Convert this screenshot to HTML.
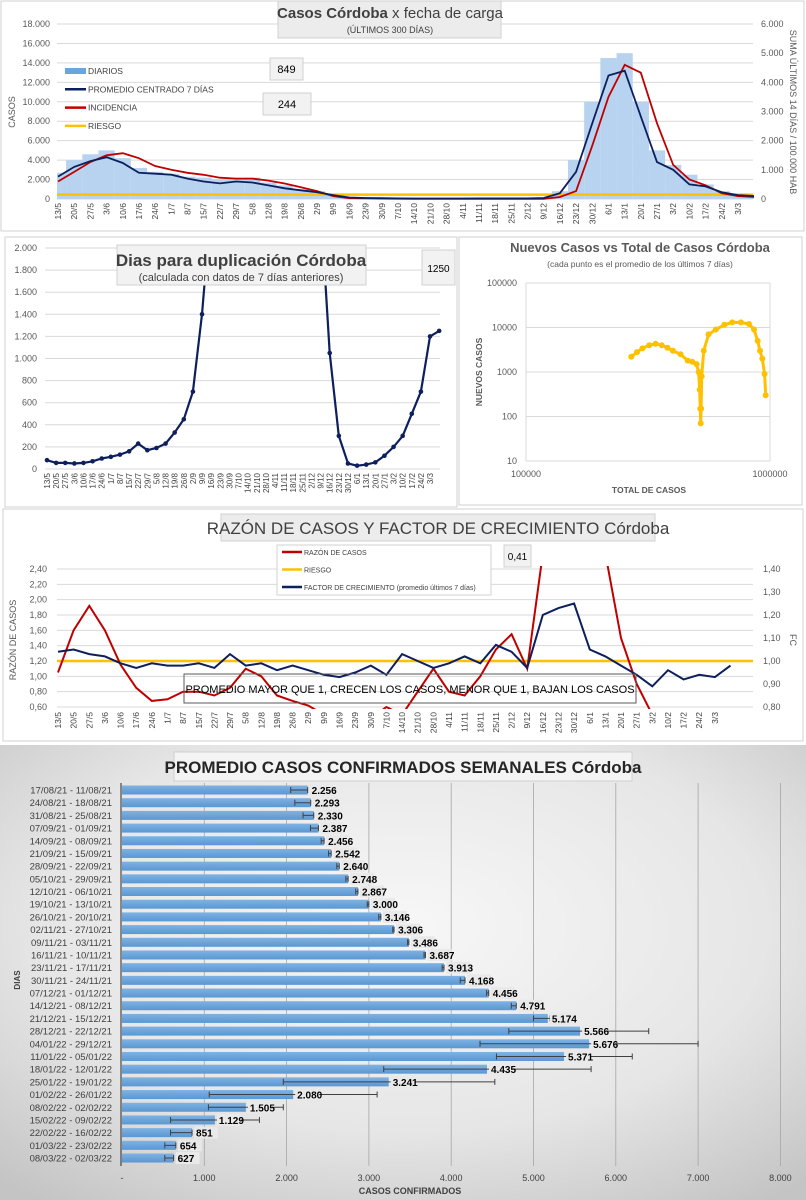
<!DOCTYPE html>
<html><head><meta charset="utf-8"><style>
body{margin:0;background:#fff;width:806px;height:1200px;overflow:hidden}
svg{display:block;font-family:"Liberation Sans Narrow","Liberation Sans",sans-serif}
</style></head><body>
<svg id="root" width="806" height="1200" viewBox="0 0 806 1200" xmlns="http://www.w3.org/2000/svg">
<defs>
<radialGradient id="bg5" cx="50%" cy="40%" r="75%"><stop offset="0" stop-color="#f7f7f7"/><stop offset="0.6" stop-color="#e6e6e6"/><stop offset="1" stop-color="#c4c4c4"/></radialGradient>
<linearGradient id="barg" x1="0" y1="0" x2="0" y2="1"><stop offset="0" stop-color="#7fb2e3"/><stop offset="1" stop-color="#5a97d2"/></linearGradient>
<clipPath id="c1"><rect x="57" y="20" width="697" height="182"/></clipPath>
<clipPath id="c2"><rect x="44" y="246" width="400" height="226"/></clipPath>
<clipPath id="c4"><rect x="57" y="566" width="697" height="143"/></clipPath>
</defs>
</svg>
<script>
// ---------- data ----------
const weekLabels=["13/5","20/5","27/5","3/6","10/6","17/6","24/6","1/7","8/7","15/7","22/7","29/7","5/8","12/8","19/8","26/8","2/9","9/9","16/9","23/9","30/9","7/10","14/10","21/10","28/10","4/11","11/11","18/11","25/11","2/12","9/12","16/12","23/12","30/12","6/1","13/1","20/1","27/1","3/2","10/2","17/2","24/2","3/3"];
const diarios=[2700,4000,4600,5000,4200,3200,2800,2600,2300,2200,2000,2200,2200,1700,1400,1000,800,400,200,100,80,60,50,50,50,50,60,60,60,60,100,800,4000,10000,14500,15000,10000,5000,3500,2500,1500,800,500,300];
const promedio=[2300,3300,3900,4300,3700,2700,2600,2500,2100,1800,1600,1800,1700,1400,1100,900,700,400,150,100,80,60,50,50,50,50,60,60,60,60,100,600,2800,7800,12700,13200,8500,3800,3000,1500,1300,700,400,300];
const incidencia=[600,930,1270,1500,1570,1400,1130,1000,900,830,730,700,700,630,530,400,270,100,27,20,13,10,7,7,7,7,7,7,7,7,7,67,270,1830,3500,4600,4330,2600,1170,670,470,200,100,67];
const riesgo1=450;
const duplicacion=[80,55,55,50,55,70,95,110,130,160,230,170,190,230,330,450,700,1400,2400,null,null,null,null,null,null,null,null,null,null,null,2400,1050,300,50,30,40,60,120,200,300,500,700,1200,1250];
const razon=[1.05,1.6,1.92,1.6,1.15,0.85,0.68,0.7,0.8,0.8,0.75,0.85,1.1,1.0,0.75,0.68,0.62,0.5,0.4,0.4,0.45,0.6,0.5,0.8,1.1,0.8,0.75,1.0,1.35,1.55,1.1,2.6,3.0,3.0,3.0,2.6,1.5,0.9,0.5,0.4,0.4,0.4,0.4,0.4];
const factor=[1.04,1.05,1.03,1.02,0.99,0.97,0.99,0.98,0.98,0.99,0.97,1.03,0.98,0.99,0.96,0.98,0.96,0.94,0.93,0.95,0.98,0.94,1.03,1.0,0.97,0.99,1.02,0.99,1.07,1.04,0.97,1.2,1.23,1.25,1.05,1.02,0.98,0.94,0.89,0.96,0.92,0.94,0.93,0.98];
const totales=[270000,285000,300000,320000,340000,360000,380000,400000,430000,460000,480000,500000,510000,515000,518000,520000,522000,525000,535000,560000,600000,650000,700000,760000,820000,860000,890000,910000,930000,950000,960000];
const nuevos=[2200,2800,3400,4000,4300,4000,3500,3000,2500,1800,1700,1500,1000,400,150,70,150,800,3000,7000,9000,11500,13000,13000,12000,9000,5000,3000,2000,900,300];
const semanas=["17/08/21 - 11/08/21","24/08/21 - 18/08/21","31/08/21 - 25/08/21","07/09/21 - 01/09/21","14/09/21 - 08/09/21","21/09/21 - 15/09/21","28/09/21 - 22/09/21","05/10/21 - 29/09/21","12/10/21 - 06/10/21","19/10/21 - 13/10/21","26/10/21 - 20/10/21","02/11/21 - 27/10/21","09/11/21 - 03/11/21","16/11/21 - 10/11/21","23/11/21 - 17/11/21","30/11/21 - 24/11/21","07/12/21 - 01/12/21","14/12/21 - 08/12/21","21/12/21 - 15/12/21","28/12/21 - 22/12/21","04/01/22 - 29/12/21","11/01/22 - 05/01/22","18/01/22 - 12/01/22","25/01/22 - 19/01/22","01/02/22 - 26/01/22","08/02/22 - 02/02/22","15/02/22 - 09/02/22","22/02/22 - 16/02/22","01/03/22 - 23/02/22","08/03/22 - 02/03/22"];
const promSem=[2256,2293,2330,2387,2456,2542,2640,2748,2867,3000,3146,3306,3486,3687,3913,4168,4456,4791,5174,5566,5676,5371,4435,3241,2080,1505,1129,851,654,627];
const errLo=[2050,2100,2200,2290,2420,2510,2610,2720,2840,2980,3120,3290,3470,3670,3890,4110,4430,4730,5000,4700,4350,4550,3180,1960,1060,1050,590,590,520,520];
const errHi=[2256,2293,2330,2387,2456,2542,2640,2748,2867,3000,3146,3306,3486,3687,3913,4168,4456,4791,5200,6400,7000,6200,5700,4530,3100,1960,1670,851,654,627];
const fmt=v=>v.toLocaleString('de-DE');

// ---------- helpers ----------
const NS="http://www.w3.org/2000/svg";
const root=document.getElementById('root');
function mk(tag,attrs,parent){const e=document.createElementNS(NS,tag);for(const k in attrs)e.setAttribute(k,attrs[k]);(parent||root).appendChild(e);return e;}
function txt(s,attrs,parent){const e=mk('text',attrs,parent);e.textContent=s;return e;}
function box(x,y,w,h,fill){return mk('rect',{x:x,y:y,width:w,height:h,fill:fill||'#fff',stroke:'#d0d0d0','stroke-width':1});}
function pathFrom(xs,ys){let d='',pen=false;for(let i=0;i<xs.length;i++){if(ys[i]===null){pen=false;continue;}d+=(pen?'L':'M')+xs[i].toFixed(1)+','+ys[i].toFixed(1);pen=true;}return d;}

// ================= PANEL 1 =================
let p=box(1,1,803,230);


const x1=i=>58+i*16.19, y1=v=>199-v/18000*175, y1r=v=>199-v/6000*175;
for(let v=0;v<=18000;v+=2000){
  let g=mk('line',{x1:57,x2:753,y1:y1(v),y2:y1(v),stroke:'#d9d9d9','stroke-width':1});
  
  
  let t=txt(fmt(v),{x:50,y:y1(v)+3,'text-anchor':'end','font-size':9,fill:'#595959'});
  
  
}
for(let v=0;v<=6000;v+=1000){
  let t=txt(fmt(v),{x:761,y:y1r(v)+3,'font-size':9,fill:'#595959'});
  
  
}
weekLabels.forEach((l,i)=>{
  let t=txt(l,{transform:`translate(${x1(i)+3},203) rotate(-90)`,'text-anchor':'end','font-size':8.5,fill:'#404040'});
  
  
});
let g1=mk('g',{'clip-path':'url(#c1)'});
diarios.forEach((v,i)=>{
  let b=mk('rect',{x:x1(i)-8.1,y:y1(v),width:16.2,height:199-y1(v),fill:'#b7d3ef'},g1);
  
  
});
let rl=mk('line',{x1:57,x2:753,y1:y1(riesgo1),y2:y1(riesgo1),stroke:'#ffc000','stroke-width':2.5},g1);


let xs=promedio.map((v,i)=>x1(i));
let pl=mk('path',{d:pathFrom(incidencia.map((v,i)=>x1(i)),incidencia.map(y1r)),fill:'none',stroke:'#c00000','stroke-width':1.8},g1);


let pp=mk('path',{d:pathFrom(xs,promedio.map(y1)),fill:'none',stroke:'#0d1f5c','stroke-width':1.8},g1);


let tb=box(278,1,223,37,'#ececec');


let t1=txt('',{x:390,y:18,'text-anchor':'middle','font-size':15,fill:'#404040'});
t1.innerHTML='<tspan font-weight="bold">Casos Córdoba</tspan> x fecha de carga';


let st=txt('(ÚLTIMOS 300 DÍAS)',{x:390,y:33,'text-anchor':'middle','font-size':9,fill:'#404040'});


[['DIARIOS','#6aa6de',6],['PROMEDIO CENTRADO 7 DÍAS','#0d1f5c',2.5],['INCIDENCIA','#c00000',2.5],['RIESGO','#ffc000',2.5]].forEach((e,i)=>{
  const y=71+i*18.3;
  let s=mk('line',{x1:65,x2:86,y1:y,y2:y,stroke:e[1],'stroke-width':e[2]});
  
  
  let t=txt(e[0],{x:88,y:y+3,'font-size':8.5,fill:'#404040'});
  
  
});
let b849=box(270,58,33,22,'#f2f2f2');
let t849=txt('849',{x:286.5,y:73,'text-anchor':'middle','font-size':11,fill:'#000'});
let b244=box(263,93,48,22,'#f2f2f2');
let t244=txt('244',{x:287,y:108,'text-anchor':'middle','font-size':11,fill:'#000'});
let ya=txt('CASOS',{transform:'translate(15,112) rotate(-90)','text-anchor':'middle','font-size':9,fill:'#595959'});

let ya2=txt('SUMA  ÚLTIMOS 14 DÍAS / 100.000 HAB',{transform:'translate(790,112) rotate(90)','text-anchor':'middle','font-size':9,fill:'#595959'});


// ================= PANEL 2 =================
p=box(5,237,452,270);


const x2=i=>47+i*9.12, y2=v=>469-v/2000*221;
for(let v=0;v<=2000;v+=200){
  let g=mk('line',{x1:45,x2:440,y1:y2(v),y2:y2(v),stroke:'#d9d9d9'});
  
  let t=txt(fmt(v),{x:37,y:y2(v)+3,'text-anchor':'end','font-size':9,fill:'#595959'});
  
}
weekLabels.forEach((l,i)=>{
  let t=txt(l,{transform:`translate(${x2(i)+3},473) rotate(-90)`,'text-anchor':'end','font-size':8,fill:'#404040'});
  
});
let g2=mk('g',{'clip-path':'url(#c2)'});
let dl=mk('path',{d:pathFrom(duplicacion.map((v,i)=>x2(i)),duplicacion.map(v=>v===null?null:y2(v))),fill:'none',stroke:'#0d1f5c','stroke-width':2.2},g2);

duplicacion.forEach((v,i)=>{if(v===null)return;
  let c=mk('circle',{cx:x2(i),cy:y2(v),r:2.3,fill:'#0d1f5c'},g2);
  });
let tb2=box(117,245,249,40,'#f2f2f2');
let tt2=txt('Dias para duplicación Córdoba',{x:241,y:266,'text-anchor':'middle','font-size':17,'font-weight':'bold',fill:'#404040'});

let ts2=txt('(calculada con datos de 7 días anteriores)',{x:241,y:281,'text-anchor':'middle','font-size':11,fill:'#404040'});

let b1250=box(422,250,33,35,'#f2f2f2');
let t1250=txt('1250',{x:438.5,y:272,'text-anchor':'middle','font-size':10,fill:'#000'});

// ================= PANEL 3 =================
p=box(459,237,343,268);


const x3=t=>526+Math.log10(t/1e5)*244, y3=n=>461-Math.log10(n/10)/4*178;
[10,100,1000,10000,100000].forEach(v=>{
  let g=mk('line',{x1:526,x2:770,y1:y3(v),y2:y3(v),stroke:'#d9d9d9'});
  
  let t=txt(String(v),{x:517,y:y3(v)+3,'text-anchor':'end','font-size':9,fill:'#595959'});
  
});
[[526,283],[770,283]].forEach(a=>{let l=mk('line',{x1:a[0],x2:a[0],y1:a[1],y2:461,stroke:'#d9d9d9'});});
[[100000,'100000'],[1000000,'1000000']].forEach(a=>{
  let t=txt(a[1],{x:x3(a[0]),y:477,'text-anchor':'middle','font-size':9,fill:'#595959'});
  });
let sp=mk('path',{d:pathFrom(totales.map(x3),nuevos.map(y3)),fill:'none',stroke:'#ffc000','stroke-width':3});

totales.forEach((t,i)=>{let c=mk('circle',{cx:x3(t),cy:y3(nuevos[i]),r:3,fill:'#ffc000'});
  });
let tt3=txt('Nuevos Casos vs Total de Casos Córdoba',{x:640,y:252,'text-anchor':'middle','font-size':13,'font-weight':'bold',fill:'#595959'});

let ts3=txt('(cada punto es el promedio de los últimos 7 días)',{x:640,y:267,'text-anchor':'middle','font-size':8.5,fill:'#595959'});

let ya3=txt('NUEVOS  CASOS',{transform:'translate(482,372) rotate(-90)','text-anchor':'middle','font-size':8.5,'font-weight':'bold',fill:'#595959'});

let xa3=txt('TOTAL DE CASOS',{x:649,y:493,'text-anchor':'middle','font-size':8.5,'font-weight':'bold',fill:'#595959'});


// ================= PANEL 4 =================
p=box(3,509,800,232);


const x4=i=>58+i*15.64, y4=v=>707-(v-0.6)/1.8*138, y4r=v=>707-(v-0.8)/0.6*138;
for(let k=0;k<=9;k++){const v=0.6+k*0.2;
  let g=mk('line',{x1:57,x2:753,y1:y4(v),y2:y4(v),stroke:'#d9d9d9'});
  
  let t=txt(v.toFixed(2).replace('.',','),{x:47,y:y4(v)+3,'text-anchor':'end','font-size':9,fill:'#595959'});
  }
for(let k=0;k<=6;k++){const v=0.8+k*0.1;
  let t=txt(v.toFixed(2).replace('.',','),{x:763,y:y4r(v)+3,'font-size':9,fill:'#595959'});
  }
weekLabels.forEach((l,i)=>{
  let t=txt(l,{transform:`translate(${x4(i)+3},712) rotate(-90)`,'text-anchor':'end','font-size':8.5,fill:'#404040'});
  });
let g4=mk('g',{'clip-path':'url(#c4)'});
let rl4=mk('line',{x1:57,x2:753,y1:y4(1.2),y2:y4(1.2),stroke:'#ffc000','stroke-width':2.5},g4);

let rz=mk('path',{d:pathFrom(razon.map((v,i)=>x4(i)),razon.map(y4)),fill:'none',stroke:'#c00000','stroke-width':2},g4);

let fc=mk('path',{d:pathFrom(factor.map((v,i)=>x4(i)),factor.map(y4r)),fill:'none',stroke:'#0d1f5c','stroke-width':2},g4);

let tb4=box(221,514,434,27,'#ececec');
let tt4=txt('RAZÓN DE CASOS Y FACTOR DE CRECIMIENTO Córdoba',{x:438,y:534,'text-anchor':'middle','font-size':17,fill:'#404040'});

let lb4=box(277,545,214,50,'#fff');
[['RAZÓN DE CASOS','#c00000'],['RIESGO','#ffc000'],['FACTOR DE CRECIMIENTO (promedio últimos 7 días)','#0d1f5c']].forEach((e,i)=>{
  const y=552+i*17.5;
  let s=mk('line',{x1:282,x2:302,y1:y,y2:y,stroke:e[1],'stroke-width':2.5});
  
  let t=txt(e[0],{x:304,y:y+3,'font-size':7,fill:'#404040'});
  });
let b041=box(504,545,27,22,'#f2f2f2');
let t041=txt('0,41',{x:517.5,y:560,'text-anchor':'middle','font-size':10,fill:'#000'});
let nb=mk('rect',{x:184,y:674,width:452,height:29,fill:'none',stroke:'#595959'});
let nt=txt('PROMEDIO MAYOR QUE 1, CRECEN LOS CASOS, MENOR QUE 1, BAJAN LOS CASOS',{x:410,y:693,'text-anchor':'middle','font-size':11,fill:'#000'});

let ya4=txt('RAZÓN  DE CASOS',{transform:'translate(16,640) rotate(-90)','text-anchor':'middle','font-size':9,fill:'#595959'});

let ya42=txt('FC',{transform:'translate(790,640) rotate(90)','text-anchor':'middle','font-size':9,fill:'#595959'});


// ================= PANEL 5 =================
p=mk('rect',{x:0,y:745,width:806,height:455,fill:'url(#bg5)'});


const x5=v=>122+v*0.0823, y5=i=>790+i*12.69;
for(let v=0;v<=8000;v+=1000){
  if(v>0){let g=mk('line',{x1:x5(v),x2:x5(v),y1:783,y2:1166,stroke:'#a6a6a6','stroke-width':0.8});
  }
  let t=txt(v===0?'-':fmt(v),{x:x5(v),y:1181,'text-anchor':'middle','font-size':9,fill:'#404040'});
  }
let ax5=mk('line',{x1:121,x2:121,y1:783,y2:1166,stroke:'#262626','stroke-width':1});

semanas.forEach((s,i)=>{
  const y=y5(i);
  let t=txt(s,{x:112,y:y+3.5,'text-anchor':'end','font-size':9.5,fill:'#404040'});
  
  let b=mk('rect',{x:122,y:y-4.5,width:x5(promSem[i])-122,height:9,fill:'url(#barg)'});
  
  let e=mk('path',{d:`M${x5(errLo[i])},${y}H${x5(errHi[i])}M${x5(errLo[i])},${y-3}V${y+3}M${x5(errHi[i])},${y-3}V${y+3}`,stroke:'#404040','stroke-width':1,fill:'none'});
  
  let lb=mk('rect',{x:x5(promSem[i])+2,y:y-6,width:24,height:12,fill:'#e9e9e9'});
  
  let v=txt(fmt(promSem[i]),{x:x5(promSem[i])+4,y:y+4,'font-size':10,'font-weight':'bold',fill:'#000'});
  
});
let tb5=mk('rect',{x:174,y:752,width:458,height:29,fill:'#f4f4f4',stroke:'#cfcfcf'});
let tt5=txt('PROMEDIO CASOS CONFIRMADOS SEMANALES Córdoba',{x:403,y:773,'text-anchor':'middle','font-size':17,'font-weight':'bold',fill:'#262626'});

let xa5=txt('CASOS CONFIRMADOS',{x:410,y:1194,'text-anchor':'middle','font-size':9,'font-weight':'bold',fill:'#404040'});

let ya5=txt('DIAS',{transform:'translate(20,980) rotate(-90)','text-anchor':'middle','font-size':8,'font-weight':'bold',fill:'#404040'});

</script>
</body></html>
